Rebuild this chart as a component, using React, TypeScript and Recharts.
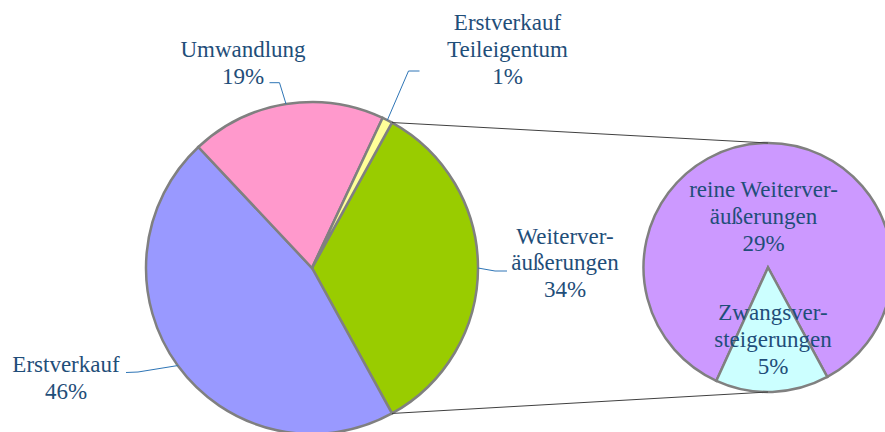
import { PieChart, Pie, Cell } from "recharts";

// main pie (Anteile in %)
const MAIN_NAMES = ["Weiterver-\näußerungen", "Erstverkauf", "Umwandlung", "Erstverkauf\nTeileigentum"];
const MAIN_VALUES = [34, 46, 19, 1];
const MAIN_COLORS = ["#99CC00", "#9999FF", "#FF99CC", "#FFFF99"];

// secondary pie: breakdown of Weiterveräußerungen
const SUB_NAMES = ["reine Weiterver-\näußerungen", "Zwangsver-\nsteigerungen"];
const SUB_VALUES = [29, 5];
const SUB_COLORS = ["#CC99FF", "#CCFFFF"];

const mainData = MAIN_NAMES.map((name, i) => ({ name, value: MAIN_VALUES[i] }));
const subData = SUB_NAMES.map((name, i) => ({ name, value: SUB_VALUES[i] }));

const W = 885;
const H = 432;
const MAIN = { cx: 312, cy: 268, r: 166, start: 61.2 };
const SUB = { cx: 768, cy: 267.5, r: 124.5, start: -114.5 };

const TEXT = "#1F4E79";
const LEADER = "#2E75B6";
const FONT = "Liberation Serif";
const FS = 23;
const LH = 26.8;
const RAD = Math.PI / 180;

// label placement: text centre x, first baseline, leader elbow + end
const MAIN_LABELS = [
  { x: 565, y: 243.5, elbow: [495, 271], end: [507, 271] },
  { x: 66, y: 372, elbow: [138, 372], end: [126, 372.5] },
  { x: 243, y: 56.7, elbow: [279.5, 82.7], end: [269.5, 82.7] },
  { x: 507.5, y: 30, elbow: [408.5, 71], end: [419.5, 71] },
];
const SUB_LABELS = [
  { x: 763.5, y: 197 },
  { x: 773, y: 320 },
];

function polar(cx: number, cy: number, r: number, angle: number) {
  return [cx + r * Math.cos(-angle * RAD), cy + r * Math.sin(-angle * RAD)];
}

function Lines({ x, y, lines }: { x: number; y: number; lines: string[] }) {
  return (
    <text textAnchor="middle" fill={TEXT} fontFamily={FONT} fontSize={FS}>
      {lines.map((l, i) => (
        <tspan key={i} x={x} y={y + i * LH} fontFamily={FONT}>
          {l}
        </tspan>
      ))}
    </text>
  );
}

function mainLabel(props: any) {
  const { cx, cy, outerRadius, midAngle, index, value, percent } = props;
  const lay = MAIN_LABELS[index];
  const [sx, sy] = polar(cx, cy, outerRadius, midAngle);
  let connectors = null;
  if (index === 0) {
    // pie-of-pie connectors from the split slice edges to the secondary pie
    const a1 = midAngle + percent * 180;
    const a2 = midAngle - percent * 180;
    const [x1, y1] = polar(cx, cy, outerRadius, a1);
    const [x2, y2] = polar(cx, cy, outerRadius, a2);
    connectors = (
      <g stroke="#404040" strokeWidth={1}>
        <line x1={x1} y1={y1} x2={SUB.cx} y2={SUB.cy - SUB.r} />
        <line x1={x2} y1={y2} x2={SUB.cx} y2={SUB.cy + SUB.r} />
      </g>
    );
  }
  return (
    <g key={`ml-${index}`}>
      {connectors}
      <polyline
        points={`${sx},${sy} ${lay.elbow[0]},${lay.elbow[1]} ${lay.end[0]},${lay.end[1]}`}
        fill="none"
        stroke={LEADER}
        strokeWidth={1}
      />
      <Lines x={lay.x} y={lay.y} lines={[...MAIN_NAMES[index].split("\n"), `${value}%`]} />
    </g>
  );
}

function subLabel(props: any) {
  const { index, value } = props;
  const lay = SUB_LABELS[index];
  return (
    <g key={`sl-${index}`}>
      <Lines x={lay.x} y={lay.y} lines={[...SUB_NAMES[index].split("\n"), `${value}%`]} />
    </g>
  );
}

export default function App() {
  return (
    <div style={{ position: "absolute", left: 0, top: 0, width: W, height: H, background: "#fff" }}>
      <PieChart width={W} height={H} margin={{ top: 0, right: 0, bottom: 0, left: 0 }}>
        <Pie
          data={mainData}
          dataKey="value"
          cx={MAIN.cx}
          cy={MAIN.cy}
          outerRadius={MAIN.r}
          startAngle={MAIN.start}
          endAngle={MAIN.start - 360}
          stroke="#808080"
          strokeWidth={2.5}
          label={mainLabel}
          labelLine={false}
          isAnimationActive={false}
        >
          {mainData.map((d, i) => (
            <Cell key={d.name} fill={MAIN_COLORS[i]} stroke="#808080" strokeWidth={2.5} />
          ))}
        </Pie>
        <Pie
          data={subData}
          dataKey="value"
          cx={SUB.cx}
          cy={SUB.cy}
          outerRadius={SUB.r}
          startAngle={SUB.start}
          endAngle={SUB.start - 360}
          stroke="#808080"
          strokeWidth={2.5}
          label={subLabel}
          labelLine={false}
          isAnimationActive={false}
        >
          {subData.map((d, i) => (
            <Cell key={d.name} fill={SUB_COLORS[i]} stroke="#808080" strokeWidth={2.5} />
          ))}
        </Pie>
      </PieChart>
    </div>
  );
}
